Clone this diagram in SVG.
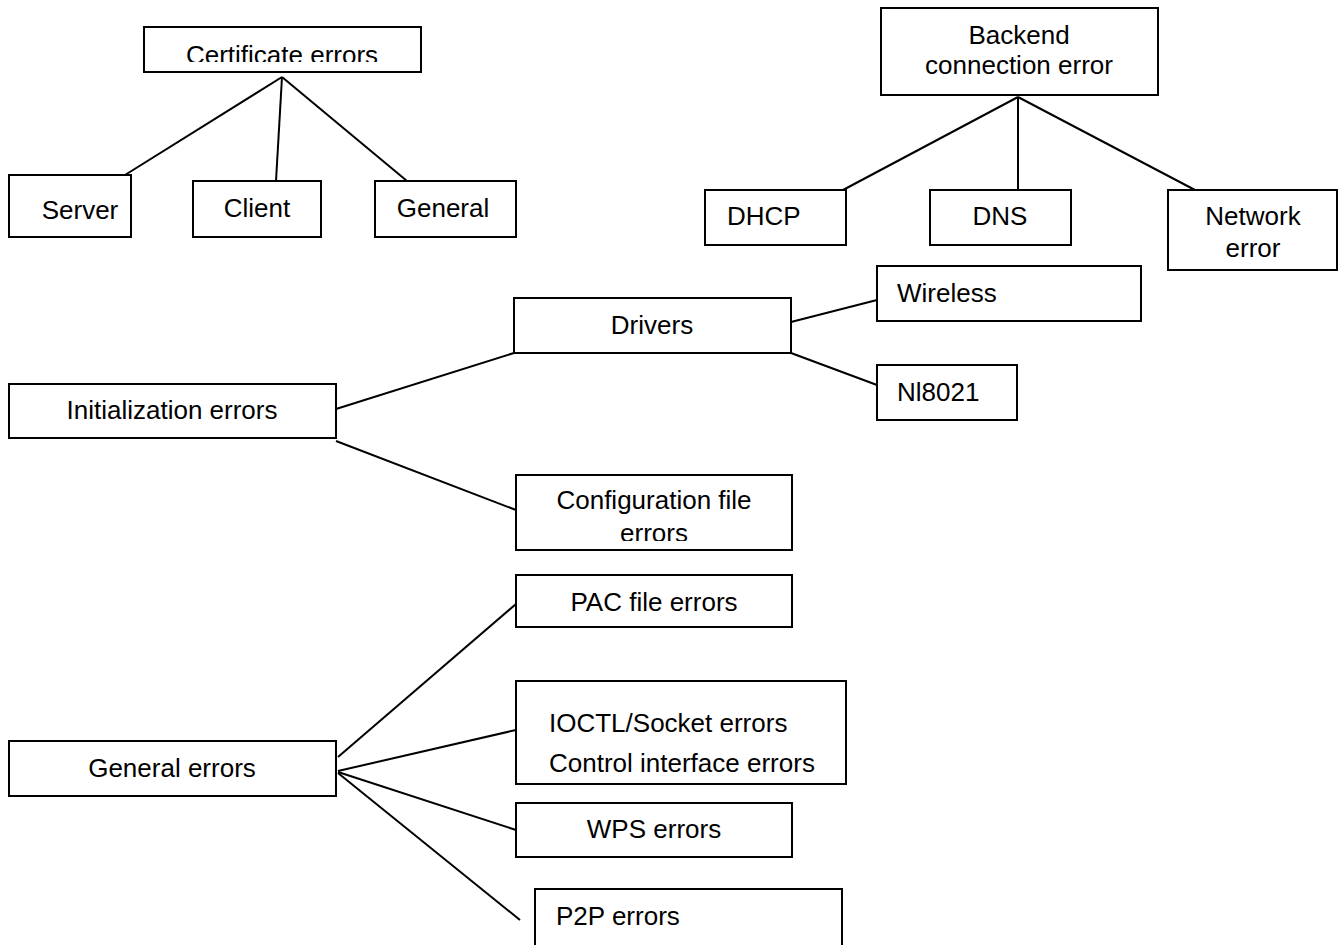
<svg xmlns="http://www.w3.org/2000/svg" width="1341" height="945" viewBox="0 0 1341 945">
<style>
rect{fill:#fff;stroke:#000;stroke-width:2}
text{font-family:"Liberation Sans",Arial,sans-serif;font-size:26px;fill:#000}
.c{text-anchor:middle}
#connectors line{stroke:#000;stroke-width:2}
</style>
<defs>
<clipPath id="clipCert"><rect x="140" y="20" width="290" height="42"/></clipPath>
<clipPath id="clipConf"><rect x="510" y="470" width="290" height="71"/></clipPath>
</defs>
<rect x="0" y="0" width="1341" height="945" style="fill:#fff;stroke:none"/>
<g id="connectors">
<line x1="282" y1="77" x2="125" y2="175"/>
<line x1="282" y1="77" x2="276" y2="181"/>
<line x1="282" y1="77" x2="407" y2="181"/>
<line x1="1018" y1="97" x2="843" y2="190"/>
<line x1="1018" y1="97" x2="1018" y2="190"/>
<line x1="1018" y1="97" x2="1195" y2="190"/>
<line x1="791" y1="322" x2="877" y2="300"/>
<line x1="791" y1="353" x2="877" y2="385"/>
<line x1="336" y1="409" x2="514" y2="353"/>
<line x1="336" y1="441" x2="516" y2="510"/>
<line x1="338" y1="757" x2="516" y2="604"/>
<line x1="338" y1="771" x2="516" y2="730"/>
<line x1="338" y1="772" x2="516" y2="830"/>
<line x1="338" y1="773" x2="520" y2="920"/>
</g>
<g id="cert"><rect x="144" y="27" width="277" height="45"/><text class="c" x="282" y="64" clip-path="url(#clipCert)">Certificate errors</text></g>
<g id="server"><rect x="9" y="175" width="122" height="62"/><text class="c" x="80" y="219">Server</text></g>
<g id="client"><rect x="193" y="181" width="128" height="56"/><text class="c" x="257" y="217">Client</text></g>
<g id="general"><rect x="375" y="181" width="141" height="56"/><text class="c" x="443" y="217">General</text></g>
<g id="backend"><rect x="881" y="8" width="277" height="87"/><text class="c" x="1019" y="44">Backend</text><text class="c" x="1019" y="74">connection error</text></g>
<g id="dhcp"><rect x="705" y="190" width="141" height="55"/><text x="727" y="225">DHCP</text></g>
<g id="dns"><rect x="930" y="190" width="141" height="55"/><text class="c" x="1000" y="225">DNS</text></g>
<g id="network"><rect x="1168" y="190" width="169" height="80"/><text class="c" x="1253" y="225">Network</text><text class="c" x="1253" y="257">error</text></g>
<g id="drivers"><rect x="514" y="298" width="277" height="55"/><text class="c" x="652" y="334">Drivers</text></g>
<g id="wireless"><rect x="877" y="266" width="264" height="55"/><text x="897" y="302">Wireless</text></g>
<g id="nl8021"><rect x="877" y="365" width="140" height="55"/><text x="897" y="401">Nl8021</text></g>
<g id="init"><rect x="9" y="384" width="327" height="54"/><text class="c" x="172" y="419">Initialization errors</text></g>
<g id="config"><rect x="516" y="475" width="276" height="75"/><text class="c" x="654" y="509">Configuration file</text><text class="c" x="654" y="542" clip-path="url(#clipConf)">errors</text></g>
<g id="pac"><rect x="516" y="575" width="276" height="52"/><text class="c" x="654" y="611">PAC file errors</text></g>
<g id="ioctl"><rect x="516" y="681" width="330" height="103"/><text x="549" y="732">IOCTL/Socket errors</text><text x="549" y="772">Control interface errors</text></g>
<g id="generr"><rect x="9" y="741" width="327" height="55"/><text class="c" x="172" y="777">General errors</text></g>
<g id="wps"><rect x="516" y="803" width="276" height="54"/><text class="c" x="654" y="838">WPS errors</text></g>
<g id="p2p"><rect x="535" y="889" width="307" height="70"/><text x="556" y="925">P2P errors</text></g>
</svg>
